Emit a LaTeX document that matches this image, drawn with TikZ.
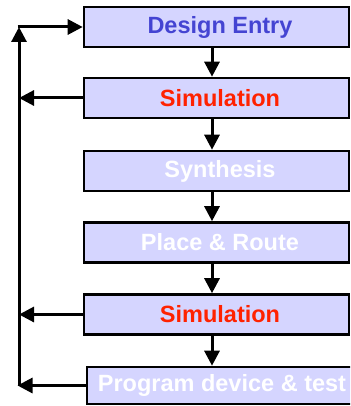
\documentclass[tikz,border=0pt]{standalone}
\usepackage{fontspec}
\setmainfont{Liberation Sans}
\usetikzlibrary{arrows.meta}
\definecolor{boxfill}{RGB}{213,213,255}
\definecolor{txtblue}{RGB}{68,68,210}
\definecolor{txtred}{RGB}{255,34,0}
\tikzset{
  stagebox/.style={draw=black, line width=2.6pt, fill=boxfill, inner sep=0pt,
    minimum height=40pt, minimum width=265pt, font=\fontsize{23.5}{26}\selectfont\bfseries},
  flowarrow/.style={line width=3pt, -{Triangle[length=15pt,width=15pt]}},
  plainline/.style={line width=3pt},
}
\begin{document}
\begin{tikzpicture}[x=1pt,y=-1pt]
\useasboundingbox (0,0) rectangle (350,406);
\clip (0,0) rectangle (350,406);
\node[stagebox, text=txtblue] (b1) at (216.5,27) {\makebox[265pt]{\hspace{7pt}Design Entry}};
\node[stagebox, text=txtred] (b2) at (216.5,98) {\makebox[265pt]{\hspace{7pt}Simulation}};
\node[stagebox, text=white] (b3) at (216.5,171) {\makebox[265pt]{\hspace{7pt}Synthesis}};
\node[stagebox, text=white] (b4) at (216.5,242.5) {\makebox[265pt]{\hspace{7pt}Place \& Route}};
\node[stagebox, text=txtred] (b5) at (216.5,314.5) {\makebox[265pt]{\hspace{7pt}Simulation}};
\node[stagebox, text=white, minimum width=270pt, minimum height=37pt] (b6) at (222,385.5) {\makebox[270pt]{Program device \& test}};
\coordinate (ax) at (212,0);
\coordinate (L) at (19,0);
\draw[flowarrow] (b1.south -| ax) -- (b2.north -| ax);
\draw[flowarrow] (b2.south -| ax) -- (b3.north -| ax);
\draw[flowarrow] (b3.south -| ax) -- (b4.north -| ax);
\draw[flowarrow] (b4.south -| ax) -- (b5.north -| ax);
\draw[flowarrow] (b5.south -| ax) -- (b6.north -| ax);
\draw[flowarrow] (L |- b6) -- (L |- b1);
\draw[flowarrow] ([xshift=-1.5pt]L |- b1) -- (b1.west);
\draw[flowarrow] (b2.west) -- (L |- b2);
\draw[flowarrow] (b5.west) -- (L |- b5);
\draw[flowarrow] (b6.west) -- ([xshift=-1.5pt]L |- b6);
\end{tikzpicture}
\end{document}
